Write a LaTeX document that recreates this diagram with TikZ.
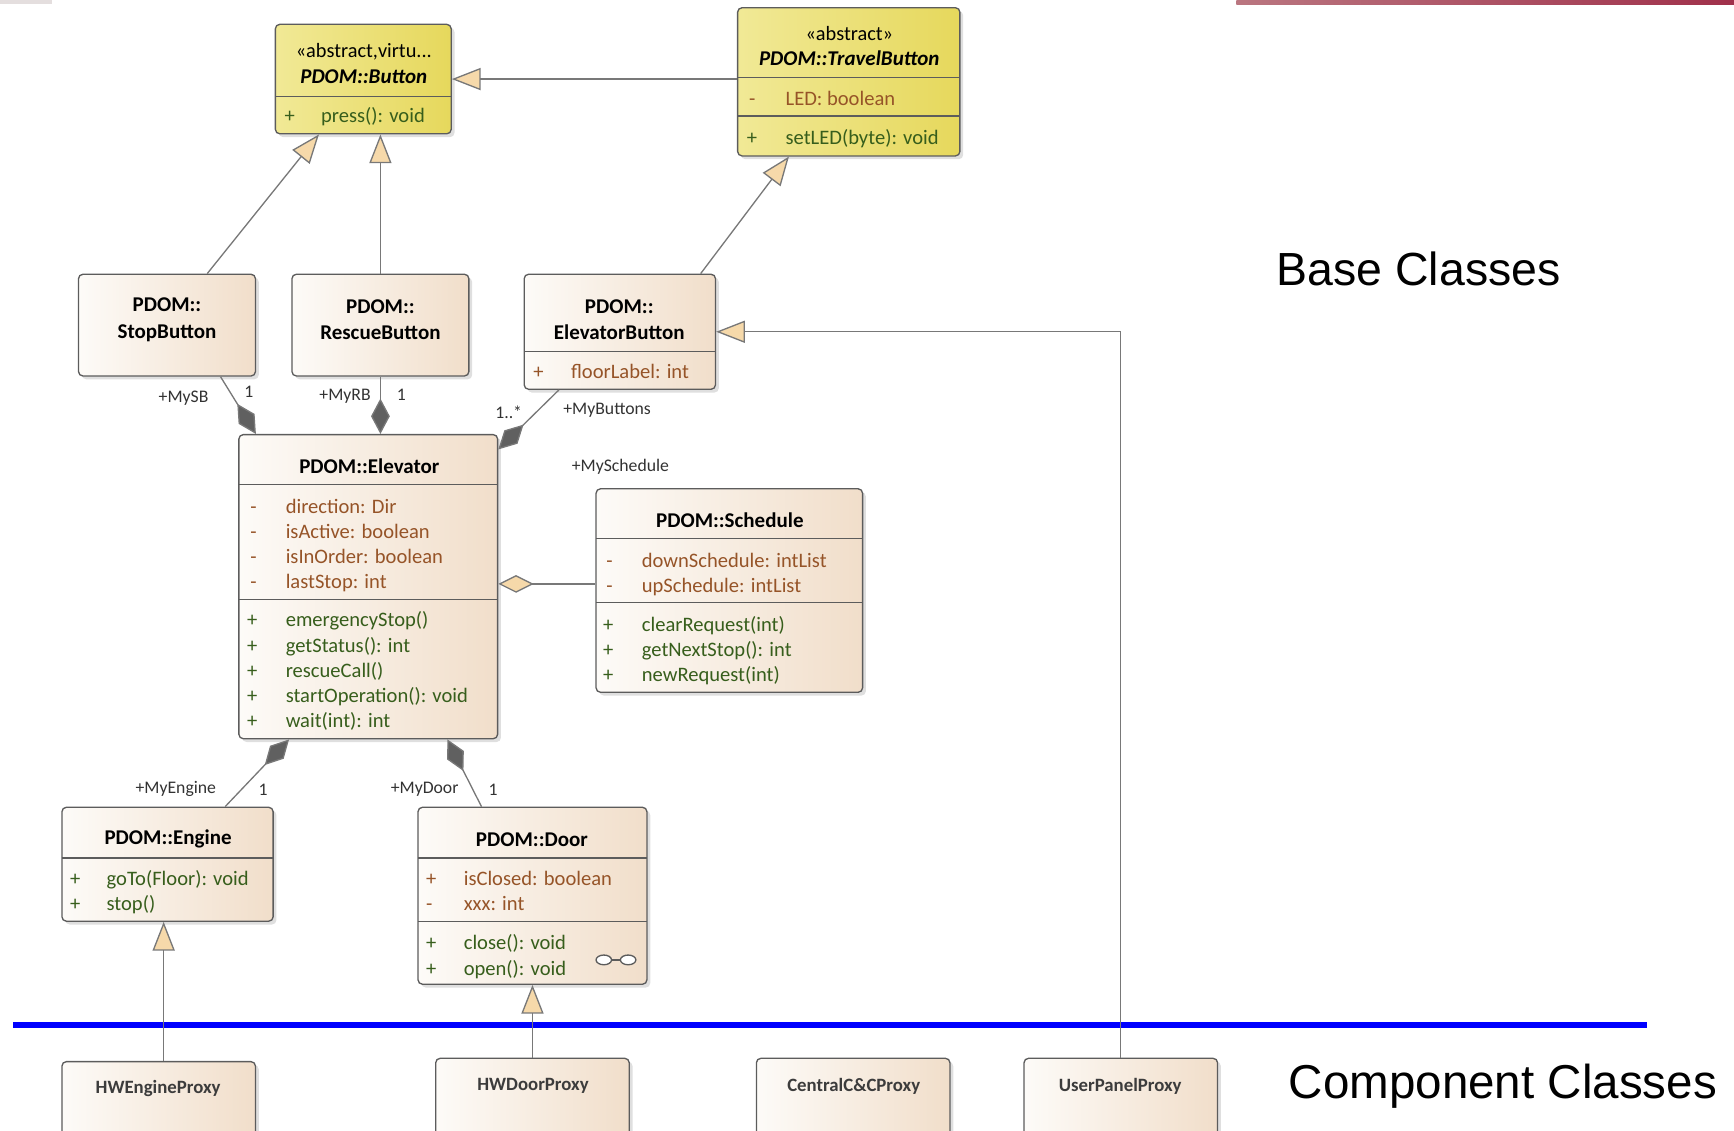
\documentclass[tikz,border=0pt]{standalone}
\usepackage{fontspec}
\newfontfamily\umlfont{Carlito}
\newfontfamily\slidefont{Liberation Sans}
\usetikzlibrary{arrows.meta,shadows,fit}
\definecolor{clsL}{RGB}{253,251,248}
\definecolor{clsR}{RGB}{241,222,202}
\definecolor{absL}{RGB}{241,233,150}
\definecolor{absR}{RGB}{230,216,92}
\definecolor{boxline}{RGB}{92,92,92}
\definecolor{lncol}{RGB}{120,120,120}
\definecolor{tipfill}{RGB}{246,217,170}
\definecolor{diafill}{RGB}{96,96,96}
\definecolor{attrcol}{RGB}{150,84,40}
\definecolor{opcol}{RGB}{55,94,28}
\definecolor{labcol}{RGB}{50,50,50}
\definecolor{proxycol}{RGB}{60,60,60}
\definecolor{barGrey}{RGB}{228,222,222}
\definecolor{barL}{RGB}{186,118,128}
\definecolor{barR}{RGB}{160,48,74}
\begin{document}
\begin{tikzpicture}[x=0.5pt,y=-0.5pt,
  cls/.style={draw=boxline,line width=0.6pt,rounded corners=2pt,inner sep=0pt,
    left color=clsL,right color=clsR,
    drop shadow={shadow xshift=1.5pt,shadow yshift=-1.5pt,opacity=.25}},
  abscls/.style={cls,left color=absL,right color=absR},
  sepline/.style={draw=boxline,line width=0.6pt},
  title/.style={inner sep=0pt,yshift=-1pt,font=\umlfont\bfseries\fontsize{9.5}{11}\selectfont},
  stereo/.style={inner sep=0pt,yshift=-1pt,font=\umlfont\fontsize{9.2}{11}\selectfont},
  mem/.style={anchor=west,inner sep=0pt,yshift=-1pt,font=\umlfont\fontsize{9.3}{11}\selectfont,
    text height=1.6ex,text depth=.45ex},
  attr/.style={mem,text=attrcol},
  op/.style={mem,text=opcol},
  lab/.style={inner sep=0pt,yshift=-1pt,text=labcol,font=\umlfont\fontsize{8}{9}\selectfont},
  proxytext/.style={inner sep=0pt,yshift=-1pt,text=proxycol,font=\umlfont\bfseries\fontsize{8.5}{10}\selectfont},
  slide/.style={anchor=west,inner sep=0pt,font=\slidefont\fontsize{21}{24}\selectfont},
  gen/.style={draw=lncol,line width=0.6pt,-{Triangle[length=13pt,width=10pt,fill=tipfill]}},
  compo/.style={draw=lncol,line width=0.6pt,{Diamond[length=16pt,width=8.5pt,fill=diafill]}-},
  aggr/.style={draw=lncol,line width=0.6pt,{Diamond[length=16pt,width=8pt,fill=tipfill]}-}]
\path[use as bounding box,clip] (0,0) rectangle (1568,1022);

% top bars of the slide
\fill[barGrey] (0,0) rectangle (47,4);
\shade[left color=barL,right color=barR] (1118,0) rectangle (1568,4);

% abstract base classes
\node[abscls,fit={(249,22) (408,121)}] (button) {};
\draw[sepline] (249,87) -- (408,87);
\node[stereo] (buttonS) at (329,45) {«abstract,virtu...};
\node[title,font=\umlfont\bfseries\itshape\fontsize{9.5}{11}\selectfont] (buttonT) at (329,67) {PDOM::Button};
\node[op] (buttonOs) at (257,104) {+};
\node[op] (buttonO) at (290,104) {press(): void};

\node[abscls,fit={(667,7) (868,141)}] (travel) {};
\draw[sepline] (667,70) -- (868,70);
\draw[sepline] (667,105) -- (868,105);
\node[stereo] (travelS) at (768,28) {«abstract»};
\node[title,font=\umlfont\bfseries\itshape\fontsize{9.5}{11}\selectfont] (travelT) at (768,51) {PDOM::TravelButton};
\node[attr] (travelAs) at (677,88) {-};
\node[attr] (travelA) at (710,88) {LED: boolean};
\node[op] (travelOs) at (675,124) {+};
\node[op] (travelO) at (710,124) {setLED(byte): void};

% buttons
\node[cls,fit={(71,248) (231,340)}] (stop) {};
\node[title,align=center] (stopT) at (151,287) {PDOM::\\[1pt]StopButton};
\node[cls,fit={(264,248) (424,340)}] (rescue) {};
\node[title,align=center] (rescueT) at (344,287) {PDOM::\\[1pt]RescueButton};
\node[cls,fit={(474,248) (647,352)}] (elevbtn) {};
\draw[sepline] (474,318) -- (647,318);
\node[title,align=center] (elevbtnT) at (560,287) {PDOM::\\[1pt]ElevatorButton};
\node[attr] (elevbtnAs) at (482,335) {+};
\node[attr] (elevbtnA) at (516,335) {floorLabel: int};

% elevator
\node[cls,fit={(216,393) (450,668)}] (elev) {};
\draw[sepline] (216,438) -- (450,438);
\draw[sepline] (216,542) -- (450,542);
\node[title] (elevT) at (334,420) {PDOM::Elevator};
\foreach \t [count=\i from 0] in {direction: Dir,isActive: boolean,isInOrder: boolean,lastStop: int}{
  \node[attr] (elevAs\i) at (226,457+22.6*\i) {-};
  \node[attr] (elevA\i) at (258,457+22.6*\i) {\t};}
\foreach \t [count=\i from 0] in {emergencyStop(),getStatus(): int,rescueCall(),startOperation(): void,wait(int): int}{
  \node[op] (elevOs\i) at (223,560+22.7*\i) {+};
  \node[op] (elevO\i) at (258,560+22.7*\i) {\t};}

% schedule
\node[cls,fit={(539,442) (780,626)}] (sched) {};
\draw[sepline] (539,487) -- (780,487);
\draw[sepline] (539,545) -- (780,545);
\node[title] (schedT) at (660,468) {PDOM::Schedule};
\foreach \t [count=\i from 0] in {downSchedule: intList,upSchedule: intList}{
  \node[attr] (schedAs\i) at (548,506+22.5*\i) {-};
  \node[attr] (schedA\i) at (580,506+22.5*\i) {\t};}
\foreach \t [count=\i from 0] in {clearRequest(int),getNextStop(): int,newRequest(int)}{
  \node[op] (schedOs\i) at (545,564+22.5*\i) {+};
  \node[op] (schedO\i) at (580,564+22.5*\i) {\t};}

% engine and door
\node[cls,fit={(56,730) (247,833)}] (engine) {};
\draw[sepline] (56,776) -- (247,776);
\node[title] (engineT) at (152,757) {PDOM::Engine};
\foreach \t [count=\i from 0] in {goTo(Floor): void,stop()}{
  \node[op] (engineOs\i) at (63,794+22.5*\i) {+};
  \node[op] (engineO\i) at (96,794+22.5*\i) {\t};}

\node[cls,fit={(378,730) (585,890)}] (door) {};
\draw[sepline] (378,776) -- (585,776);
\draw[sepline] (378,833) -- (585,833);
\node[title] (doorT) at (481,757) {PDOM::Door};
\foreach \s/\t [count=\i from 0] in {+/isClosed: boolean,-/xxx: int}{
  \node[attr] (doorAs\i) at (385,794+22.5*\i) {\s};
  \node[attr] (doorA\i) at (419,794+22.5*\i) {\t};}
\foreach \t [count=\i from 0] in {close(): void,open(): void}{
  \node[op] (doorOs\i) at (385,852+23*\i) {+};
  \node[op] (doorO\i) at (419,852+23*\i) {\t};}
\draw[boxline,fill=white,line width=0.6pt] (546,868) ellipse [x radius=3.5pt,y radius=2.2pt]
  (568,868) ellipse [x radius=3.5pt,y radius=2.2pt];
\draw[boxline,line width=0.6pt] (553,868) -- (561,868);

% separator between the layers
\draw[blue,line width=3pt] (12,927) -- (1489,927);

% component classes
\node[cls,fit={(56,960) (231,1040)}] (hwengine) {};
\node[proxytext] (hwengineT) at (143,982) {HWEngineProxy};
\node[cls,fit={(394,957) (569,1040)}] (hwdoor) {};
\node[proxytext] (hwdoorT) at (482,980) {HWDoorProxy};
\node[cls,fit={(684,957) (859,1040)}] (central) {};
\node[proxytext] (centralT) at (772,980) {CentralC\&CProxy};
\node[cls,fit={(926,957) (1101,1040)}] (userpanel) {};
\node[proxytext] (userpanelT) at (1013,980) {UserPanelProxy};

\node[slide] (baseL) at (1154,243) {Base Classes};
\node[slide,font=\slidefont\fontsize{21.5}{24}\selectfont] (compL) at (1165,982) {Component Classes};

% generalizations
\draw[gen] (button.east -| travel.west) -- (button.east);
\draw[gen] ([xshift=58.5pt]stop.north west) -- ([xshift=20pt]button.south west);
\draw[gen] (rescue.north) -- (rescue.north |- button.south);
\draw[gen] ([xshift=-7pt]elevbtn.north east) -- ([xshift=23.5pt]travel.south west);
\draw[gen] (userpanel.north) |- (elevbtn.east);
\draw[gen] ([xshift=2.25pt]hwengine.north) -- ([xshift=2.25pt]hwengine.north |- engine.south);
\draw[gen] (hwdoor.north) -- (door.south);

% compositions and aggregation
\draw[compo] ([xshift=8pt]elev.north west) -- ([xshift=64.5pt]stop.south west);
\draw[compo] (rescue.south |- elev.north) -- (rescue.south);
\draw[compo] ([yshift=-7pt]elev.north east) -- ([xshift=16pt]elevbtn.south west);
\draw[compo] ([xshift=23pt]elev.south west) -- ([xshift=-22pt]engine.north east);
\draw[compo] ([xshift=-23pt]elev.south east) -- ([xshift=29pt]door.north west);
\draw[aggr] ([yshift=1.25pt]elev.east) -- ([yshift=1.25pt]elev.east -| sched.west);

% role names and multiplicities
\node[lab] (sbR) at (166,358) {+MySB};
\node[lab] (sbM) at (225,352) {1};
\node[lab] (rbR) at (312,356) {+MyRB};
\node[lab] (rbM) at (363,355) {1};
\node[lab] (btnM) at (460,371) {1..*};
\node[lab] (btnR) at (549,369) {+MyButtons};
\node[lab] (schR) at (561,420) {+MySchedule};
\node[lab] (engR) at (159,711) {+MyEngine};
\node[lab] (engM) at (238,712) {1};
\node[lab] (doorR) at (384,712) {+MyDoor};
\node[lab] (doorM) at (446,712) {1};
\end{tikzpicture}
\end{document}
